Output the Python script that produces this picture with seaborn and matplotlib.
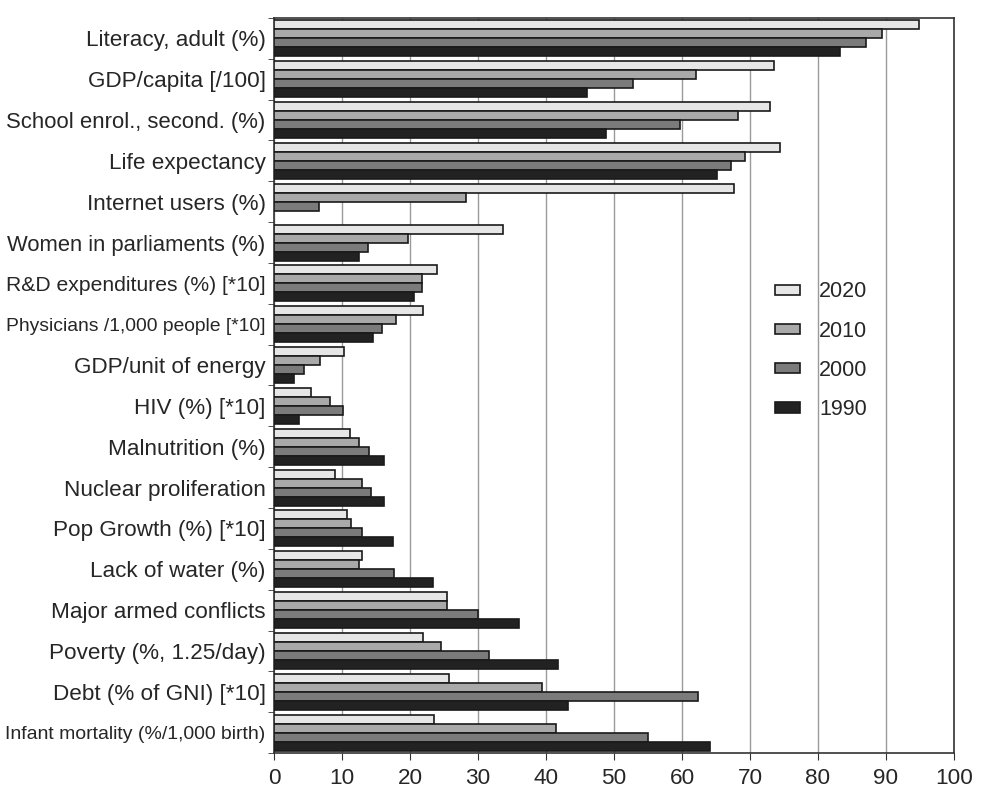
import pandas as pd
import numpy as np
import seaborn as sns
import matplotlib.pyplot as plt
from matplotlib.ticker import MultipleLocator, FixedLocator

# Indicator names, top to bottom
categories = [
    'Literacy, adult (%)', 'GDP/capita [/100]', 'School enrol., second. (%)',
    'Life expectancy', 'Internet users (%)', 'Women in parliaments (%)',
    'R&D expenditures (%) [*10]', 'Physicians /1,000 people [*10]',
    'GDP/unit of energy', 'HIV (%) [*10]', 'Malnutrition (%)',
    'Nuclear proliferation', 'Pop Growth (%) [*10]', 'Lack of water (%)',
    'Major armed conflicts', 'Poverty (%, 1.25/day)', 'Debt (% of GNI) [*10]',
    'Infant mortality (%/1,000 birth)'
]
years = ['2020', '2010', '2000', '1990']

# Values
v2020 = [94.9, 73.5, 72.9, 74.4, 67.6, 33.6, 24.0, 21.9, 10.3, 5.5,
         11.1, 8.9, 10.8, 13.0, 25.4, 21.9, 25.7, 23.5]
v2010 = [89.4, 62.0, 68.2, 69.3, 28.3, 19.7, 21.7, 18.0, 6.7, 8.2,
         12.5, 13.0, 11.3, 12.5, 25.4, 24.5, 39.4, 41.5]
v2000 = [87.0, 52.8, 59.7, 67.2, 6.6, 13.8, 21.7, 15.9, 4.4, 10.1,
         13.9, 14.2, 13.0, 17.6, 30.0, 31.6, 62.4, 55.0]
v1990 = [83.3, 46.0, 48.8, 65.2, np.nan, 12.5, 20.6, 14.5, 3.0, 3.7,
         16.2, 16.2, 17.5, 23.4, 36.0, 41.8, 43.3, 64.1]

colors = ['#e6e6e6', '#a9a9a9', '#7b7b7b', '#222222']

# Long-form table for seaborn
df = pd.DataFrame({
    'indicator': categories * 4,
    'year': np.repeat(years, len(categories)),
    'value': v2020 + v2010 + v2000 + v1990,
})

sns.set_style('white')
plt.rcParams['font.family'] = ['Liberation Sans', 'DejaVu Sans']
text_color = '#262626'
fs = 16.2

fig = plt.figure(figsize=(9.84, 7.95), dpi=100)
ax = fig.add_axes([0.2785, 0.0528, 0.691, 0.9246])

sns.barplot(
    data=df, x='value', y='indicator', hue='year',
    order=categories, hue_order=years, palette=colors,
    orient='h', width=0.88, edgecolor='#1a1a1a', linewidth=1.2,
    saturation=1, ax=ax, zorder=3
)

ax.set_xlim(0, 100)
ax.set_ylim(len(categories) - 0.5, -0.5)
ax.xaxis.set_major_locator(MultipleLocator(10))
ax.grid(axis='x', color='#9a9a9a', linewidth=1.0, zorder=0)
ax.grid(axis='y', visible=False)
ax.set_axisbelow(True)
ax.set_xlabel('')
ax.set_ylabel('')

for side in ['left', 'right', 'top', 'bottom']:
    ax.spines[side].set_visible(True)
    ax.spines[side].set_color('#333333')
    ax.spines[side].set_linewidth(1.2)

# tick marks between categories, none at label positions
ax.yaxis.set_minor_locator(FixedLocator(np.arange(-0.5, len(categories), 1)))
ax.tick_params(axis='y', which='major', length=0, pad=6,
               labelsize=fs, labelcolor=text_color)
ax.tick_params(axis='y', which='minor', length=4, color='#333333',
               direction='out', left=True)
ax.tick_params(axis='x', which='major', length=5, color='#333333',
               direction='out', bottom=True, pad=6,
               labelsize=fs, labelcolor=text_color)

leg = ax.legend(
    loc='upper left', bbox_to_anchor=(0.708, 0.668), frameon=False,
    fontsize=15.5, handlelength=1.15, handleheight=0.35,
    handletextpad=0.9, labelspacing=0.85
)
for t in leg.get_texts():
    t.set_color(text_color)

# squeeze the longest labels so they fit to the left edge
fig.canvas.draw()
max_w = 260
for lab in ax.get_yticklabels():
    w = lab.get_window_extent().width
    if w > max_w:
        lab.set_fontsize(fs * max_w / w)

fig.savefig('out.png', dpi=100)
